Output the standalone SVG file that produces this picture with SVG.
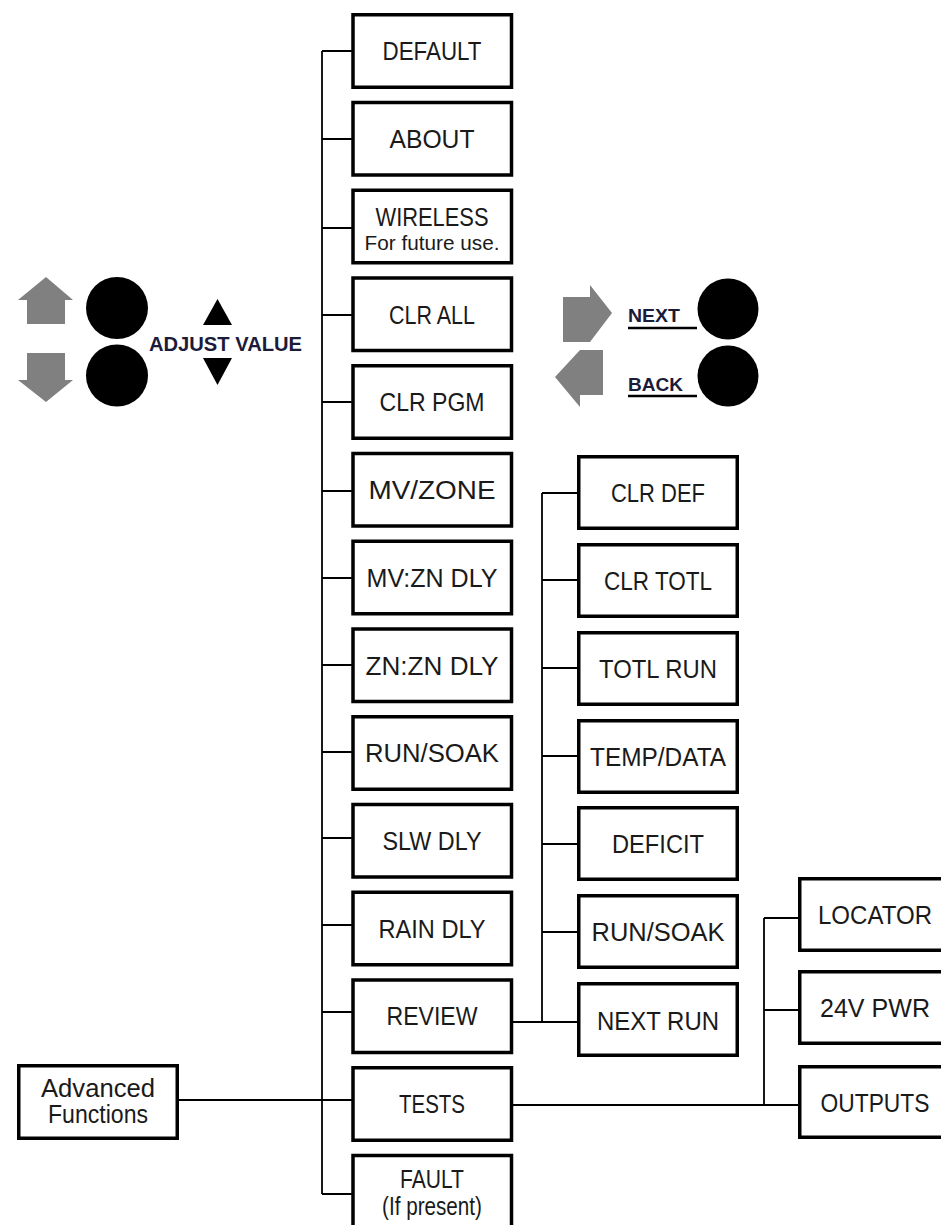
<svg xmlns="http://www.w3.org/2000/svg" width="941" height="1225" viewBox="0 0 941 1225">
<style>
.box{fill:#fff;stroke:#000;stroke-width:3.5}
.ln{fill:none;stroke:#000;stroke-width:1.8}
.t{font-family:"Liberation Sans",Arial,sans-serif;font-size:25px;fill:#1a1a1a;text-anchor:middle}
.s{font-size:21px}
.b{font-family:"Liberation Sans",Arial,sans-serif;font-weight:bold;fill:#1b1b3a}
.g{fill:#808080}
</style>
<rect width="941" height="1225" fill="#fff"/>
<g id="connectors">
<path class="ln" d="M322 51V1194"/>
<path class="ln" d="M322 51H353M322 139H353M322 228H353M322 315H353M322 402H353M322 491H353M322 578H353M322 665H353M322 752H353M322 838H353M322 925H353M322 1012H353M322 1194H353"/>
<path class="ln" d="M179 1100H353"/>
<path class="ln" d="M513 1022H542M542 493V1022M542 493H578M542 580H578M542 668H578M542 756H578M542 844H578M542 932H578M542 1022H578"/>
<path class="ln" d="M513 1105H800M764 918V1105M764 918H800M764 1010H800"/>
</g>
<g id="controls">
<path class="g" d="M46 277L73 300H65V324H27V300H18Z"/>
<path class="g" d="M27 353H65V380H73L46 402L18 380H27Z"/>
<circle cx="117" cy="308" r="31"/>
<circle cx="117" cy="375.5" r="31"/>
<path d="M217.5 299L232 325H203Z"/>
<path d="M203 358H232L217.5 385Z"/>
<text class="b" x="149" y="351" font-size="20" textLength="153" lengthAdjust="spacingAndGlyphs">ADJUST VALUE</text>
<path class="g" d="M563 297H590V285L612 313L590 342H563Z"/>
<path class="g" d="M603 350V395H580V407L555 377L580 350Z"/>
<text class="b" x="628" y="322" font-size="19" textLength="52" lengthAdjust="spacingAndGlyphs">NEXT</text>
<path d="M628 328H697" stroke="#000" stroke-width="2.5"/>
<text class="b" x="628" y="391" font-size="19" textLength="55" lengthAdjust="spacingAndGlyphs">BACK</text>
<path d="M628 396H697" stroke="#000" stroke-width="2.5"/>
<circle cx="728" cy="309" r="30.5"/>
<circle cx="728" cy="376" r="30.5"/>
</g>
<g id="n-default"><rect class="box" x="353" y="14.75" width="158.5" height="72.5"/><text class="t" x="432" y="60" textLength="99" lengthAdjust="spacingAndGlyphs">DEFAULT</text></g>
<g id="n-about"><rect class="box" x="353" y="102.5" width="158.5" height="72.5"/><text class="t" x="432" y="148" textLength="85" lengthAdjust="spacingAndGlyphs">ABOUT</text></g>
<g id="n-wireless"><rect class="box" x="353" y="190.25" width="158.5" height="72.5"/><text class="t" x="432" y="226" font-size="24" textLength="113" lengthAdjust="spacingAndGlyphs">WIRELESS</text><text class="t s" x="432" y="250" textLength="135" lengthAdjust="spacingAndGlyphs">For future use.</text></g>
<g id="n-clrall"><rect class="box" x="353" y="278" width="158.5" height="72.5"/><text class="t" x="432" y="323.5" textLength="86" lengthAdjust="spacingAndGlyphs">CLR ALL</text></g>
<g id="n-clrpgm"><rect class="box" x="353" y="365.75" width="158.5" height="72.5"/><text class="t" x="432" y="411" textLength="105" lengthAdjust="spacingAndGlyphs">CLR PGM</text></g>
<g id="n-mvzone"><rect class="box" x="353" y="453.5" width="158.5" height="72.5"/><text class="t" x="432" y="499" textLength="127" lengthAdjust="spacingAndGlyphs">MV/ZONE</text></g>
<g id="n-mvzndly"><rect class="box" x="353" y="541.25" width="158.5" height="72.5"/><text class="t" x="432" y="587" textLength="131" lengthAdjust="spacingAndGlyphs">MV:ZN DLY</text></g>
<g id="n-znzndly"><rect class="box" x="353" y="629" width="158.5" height="72.5"/><text class="t" x="432" y="674.5" textLength="133" lengthAdjust="spacingAndGlyphs">ZN:ZN DLY</text></g>
<g id="n-runsoak"><rect class="box" x="353" y="716.75" width="158.5" height="72.5"/><text class="t" x="432" y="762" textLength="134" lengthAdjust="spacingAndGlyphs">RUN/SOAK</text></g>
<g id="n-slwdly"><rect class="box" x="353" y="804.5" width="158.5" height="72.5"/><text class="t" x="432" y="850" textLength="99" lengthAdjust="spacingAndGlyphs">SLW DLY</text></g>
<g id="n-raindly"><rect class="box" x="353" y="892.25" width="158.5" height="72.5"/><text class="t" x="432" y="937.5" textLength="107" lengthAdjust="spacingAndGlyphs">RAIN DLY</text></g>
<g id="n-review"><rect class="box" x="353" y="980" width="158.5" height="72.5"/><text class="t" x="432" y="1025" textLength="91" lengthAdjust="spacingAndGlyphs">REVIEW</text></g>
<g id="n-tests"><rect class="box" x="353" y="1067.75" width="158.5" height="72.5"/><text class="t" x="432" y="1113" textLength="66" lengthAdjust="spacingAndGlyphs">TESTS</text></g>
<g id="n-fault"><rect class="box" x="353" y="1155.5" width="158.5" height="72.5"/><text class="t" x="432" y="1188" font-size="22" textLength="64" lengthAdjust="spacingAndGlyphs">FAULT</text><text class="t" x="432" y="1215" font-size="18" textLength="100" lengthAdjust="spacingAndGlyphs">(If present)</text></g>
<g id="n-advanced"><rect class="box" x="18.75" y="1065.75" width="158.5" height="72.5"/><text class="t" x="98" y="1097" font-size="24" textLength="114" lengthAdjust="spacingAndGlyphs">Advanced</text><text class="t" x="98" y="1123" font-size="24" textLength="100" lengthAdjust="spacingAndGlyphs">Functions</text></g>
<g id="s-clrdef"><rect class="box" x="578.75" y="456.75" width="158.5" height="71.5"/><text class="t" x="658" y="502" textLength="94" lengthAdjust="spacingAndGlyphs">CLR DEF</text></g>
<g id="s-clrtotl"><rect class="box" x="578.75" y="544.75" width="158.5" height="71.5"/><text class="t" x="658" y="590" textLength="108" lengthAdjust="spacingAndGlyphs">CLR TOTL</text></g>
<g id="s-totlrun"><rect class="box" x="578.75" y="632.75" width="158.5" height="71.5"/><text class="t" x="658" y="678" textLength="118" lengthAdjust="spacingAndGlyphs">TOTL RUN</text></g>
<g id="s-tempdata"><rect class="box" x="578.75" y="720.75" width="158.5" height="71.5"/><text class="t" x="658" y="766" textLength="136" lengthAdjust="spacingAndGlyphs">TEMP/DATA</text></g>
<g id="s-deficit"><rect class="box" x="578.75" y="807.75" width="158.5" height="71.5"/><text class="t" x="658" y="853" textLength="92" lengthAdjust="spacingAndGlyphs">DEFICIT</text></g>
<g id="s-runsoak"><rect class="box" x="578.75" y="895.75" width="158.5" height="71.5"/><text class="t" x="658" y="941" textLength="133" lengthAdjust="spacingAndGlyphs">RUN/SOAK</text></g>
<g id="s-nextrun"><rect class="box" x="578.75" y="983.75" width="158.5" height="71.5"/><text class="t" x="658" y="1030" textLength="122" lengthAdjust="spacingAndGlyphs">NEXT RUN</text></g>
<g id="t-locator"><rect class="box" x="799.75" y="878.75" width="158" height="71.5"/><text class="t" x="875" y="924" textLength="114" lengthAdjust="spacingAndGlyphs">LOCATOR</text></g>
<g id="t-24v"><rect class="box" x="799.75" y="971.75" width="158" height="71.5"/><text class="t" x="875" y="1017" textLength="110" lengthAdjust="spacingAndGlyphs">24V PWR</text></g>
<g id="t-outputs"><rect class="box" x="799.75" y="1066.75" width="158" height="70.5"/><text class="t" x="875" y="1112" textLength="109" lengthAdjust="spacingAndGlyphs">OUTPUTS</text></g>
</svg>
